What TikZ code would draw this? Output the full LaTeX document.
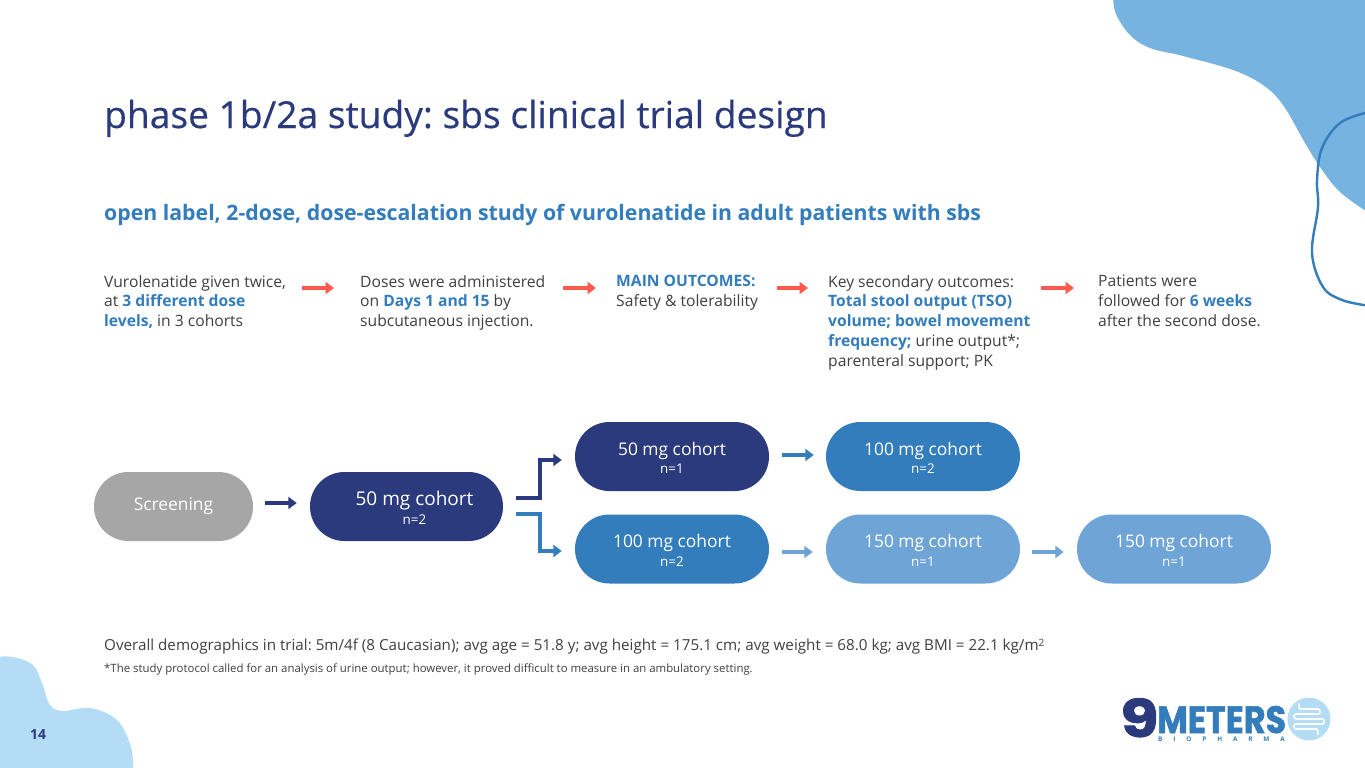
\documentclass[tikz,border=0pt]{standalone}
\usepackage{fontspec}
\setmainfont{Open Sans}
\newfontfamily\semifont[FakeBold=0.4]{Open Sans}
\newfontfamily\logofont[BoldFeatures={FakeBold=1.5}]{Poppins}
\newfontfamily\biofont[LetterSpace=170]{Open Sans}
\usetikzlibrary{arrows.meta,shapes.misc}
\definecolor{navy}{HTML}{2A3A7C}
\definecolor{midblue}{HTML}{337DBD}
\definecolor{lightblue}{HTML}{6FA5D6}
\definecolor{blobblue}{HTML}{77B3E0}
\definecolor{paleblue}{HTML}{B5DCF5}
\definecolor{greypill}{HTML}{A6A6A6}
\definecolor{redarrow}{HTML}{FF5A4D}
\definecolor{bodytext}{HTML}{404040}
\newcommand{\hl}[1]{\textbf{\textcolor{midblue}{#1}}}
\frenchspacing
\tikzset{
  x=1pt,y=-1pt,
  bodytxt/.style={anchor=north west,align=left,inner sep=0pt,text=bodytext,font=\fontsize{15.65}{19.75}\selectfont},
  pill/.style={rectangle,rounded corners=34.4pt,minimum height=69pt,inner sep=0pt,text=white,align=center,font=\fontsize{17.4}{20.5}\selectfont},
  arr/.style={line width=4pt,-{Triangle[length=8.5pt,width=12pt]}},
  redarr/.style={arr,draw=redarrow},
}
\newcommand{\sm}[1]{\rule{0pt}{16.4pt}\\[-2pt]{\fontsize{13.4}{16}\selectfont #1}}
\begin{document}
\begin{tikzpicture}
\useasboundingbox (0,0) rectangle (1365,768);
\fill[white] (0,0) rectangle (1365,768);
% blobs
\fill[blobblue] plot[smooth,tension=0.6] coordinates {(1113,-4) (1116,14) (1130,35) (1150,48) (1183,56) (1233,70) (1263,85) (1283,105) (1305,143) (1320,167) (1340,192) (1369,213)} -- (1369,-4) -- cycle;
\draw[midblue,line width=2.4pt] plot[smooth,tension=0.6] coordinates {(1367,112.5) (1340,123) (1322,148) (1317,180) (1318,207) (1312,253) (1323,287) (1342,300) (1367,305.5)};
\fill[paleblue] plot[smooth,tension=0.6] coordinates {(-4,657) (13,657) (33,665) (42,683) (50,705) (63,711) (90,708) (117,720) (131,747) (133,772)} -- (-4,772) -- cycle;
\node[text=navy,inner sep=0pt,font=\fontsize{14}{16}\selectfont\bfseries] (pg) at (38,734.5) {14};
% titles
\node[anchor=base west,inner sep=0pt,text=navy,font=\fontsize{37.15}{40}\semifont] (title) at (104,128) {phase 1b/2a study: sbs clinical trial design};
\node[anchor=base west,inner sep=0pt,text=midblue,font=\fontsize{21.27}{24}\selectfont\bfseries] (sub) at (104,220.5) {open label, 2-dose, dose-escalation study of vurolenatide in adult patients with sbs};
% top text
\node[bodytxt] (t1) at (104,275) {Vurolenatide given twice,\\at \hl{3 different dose}\\\hl{levels,} in 3 cohorts};
\node[bodytxt] (t2) at (360,275) {Doses were administered\\on \hl{Days 1 and 15} by\\subcutaneous injection.};
\node[bodytxt] (t3) at (616,275) {\hl{MAIN OUTCOMES:}\\Safety \& tolerability};
\node[bodytxt] (t4) at (828,275) {Key secondary outcomes:\\\hl{Total stool output (TSO)}\\\hl{volume; bowel movement}\\\hl{frequency;} urine output*;\\parenteral support; PK};
\node[bodytxt] (t5) at (1098,275) {Patients were\\followed for \hl{6 weeks}\\after the second dose.};
\coordinate (a1s) at (302,288); \coordinate (a1e) at (334,288);
\coordinate (a2s) at (563,288); \coordinate (a2e) at (596,288);
\coordinate (a3s) at (777,288); \coordinate (a3e) at (808,288);
\coordinate (a4s) at (1041,288); \coordinate (a4e) at (1074,288);
\draw[redarr] (a1s) -- (a1e);
\draw[redarr] (a2s) -- (a2e);
\draw[redarr] (a3s) -- (a3e);
\draw[redarr] (a4s) -- (a4e);
% pills
\node[pill,fill=greypill,minimum width=159pt] (screen) at (173.5,506.5) {Screening};
\node[pill,fill=navy,minimum width=193pt] (c0) at (406.5,506.5) {};
\node[text=white,inner sep=0pt,align=center,font=\fontsize{19}{21}\selectfont] (c0t) at (414.5,507.5) {50 mg cohort\\[-2pt]{\fontsize{13.4}{16}\selectfont n=2}};
\node[pill,fill=navy,minimum width=194pt] (c1) at (672,456.5) {50 mg cohort\sm{n=1}};
\node[pill,fill=midblue,minimum width=194pt] (c2) at (923,456.5) {100 mg cohort\sm{n=2}};
\node[pill,fill=midblue,minimum width=194pt] (c3) at (672,549) {100 mg cohort\sm{n=2}};
\node[pill,fill=lightblue,minimum width=194pt] (c4) at (923,549) {150 mg cohort\sm{n=1}};
\node[pill,fill=lightblue,minimum width=194pt] (c5) at (1174,549) {150 mg cohort\sm{n=1}};
% connectors
\draw[arr,navy,shorten <=12pt,shorten >=13pt] ([yshift=3.5pt]screen.east) -- ([yshift=3.5pt]c0.west);
\draw[arr,midblue,shorten <=13pt,shorten >=12pt] ([yshift=1.5pt]c1.east) -- ([yshift=1.5pt]c2.west);
\draw[arr,lightblue,shorten <=13pt,shorten >=13pt] ([yshift=-3pt]c3.east) -- ([yshift=-3pt]c4.west);
\draw[arr,lightblue,shorten <=12pt,shorten >=13pt] ([yshift=-3pt]c4.east) -- ([yshift=-3pt]c5.west);
\coordinate (e1) at (516,497.5); \coordinate (e2) at (516,514);
\draw[arr,navy] (e1) -- (540,497.5) -- (540,460) -- ([xshift=-13pt]c1.west |- 0,460);
\draw[arr,midblue] (e2) -- (540,514) -- (540,551) -- ([xshift=-13pt]c3.west |- 0,551);
% bottom
\node[anchor=base west,inner sep=0pt,text=bodytext,font=\fontsize{15.2}{18}\selectfont] (demo) at (104,650) {Overall demographics in trial: 5m/4f (8 Caucasian); avg age = 51.8 y; avg height = 175.1 cm; avg weight = 68.0 kg; avg BMI = 22.1 kg/m{\fontsize{10}{10}\selectfont\raisebox{4pt}{2}}};
\node[anchor=base west,inner sep=0pt,text=bodytext,font=\fontsize{11.4}{14}\selectfont] (foot) at (104,672) {*The study protocol called for an analysis of urine output; however, it proved difficult to measure in an ambulatory setting.};
% logo
\node[anchor=base west,inner sep=0pt,text depth=0pt,text=navy,font=\fontsize{52}{52}\logofont\bfseries,xscale=1.2] (nine) at (1120,737) {9};
\node[anchor=base west,inner sep=0pt,text depth=0pt,text=midblue,font=\fontsize{38}{38}\logofont\bfseries,xscale=0.88] (meters) at (1157,733) {METERS};
\node[anchor=base west,inner sep=0pt,text=midblue,font=\fontsize{6.4}{7}\biofont\bfseries] (bio) at (1158,741) {BIOPHARMA};
\fill[paleblue] (1309,719) circle (21.5);
\draw[white,line width=1.6pt,line cap=round,rounded corners=2pt] (1299,704) -- (1299,709) -- (1320,709) -- (1320,714) -- (1294,714) -- (1294,719) -- (1324,719) -- (1324,724) -- (1294,724) -- (1294,729) -- (1318,729) -- (1318,734);
\end{tikzpicture}
\end{document}
